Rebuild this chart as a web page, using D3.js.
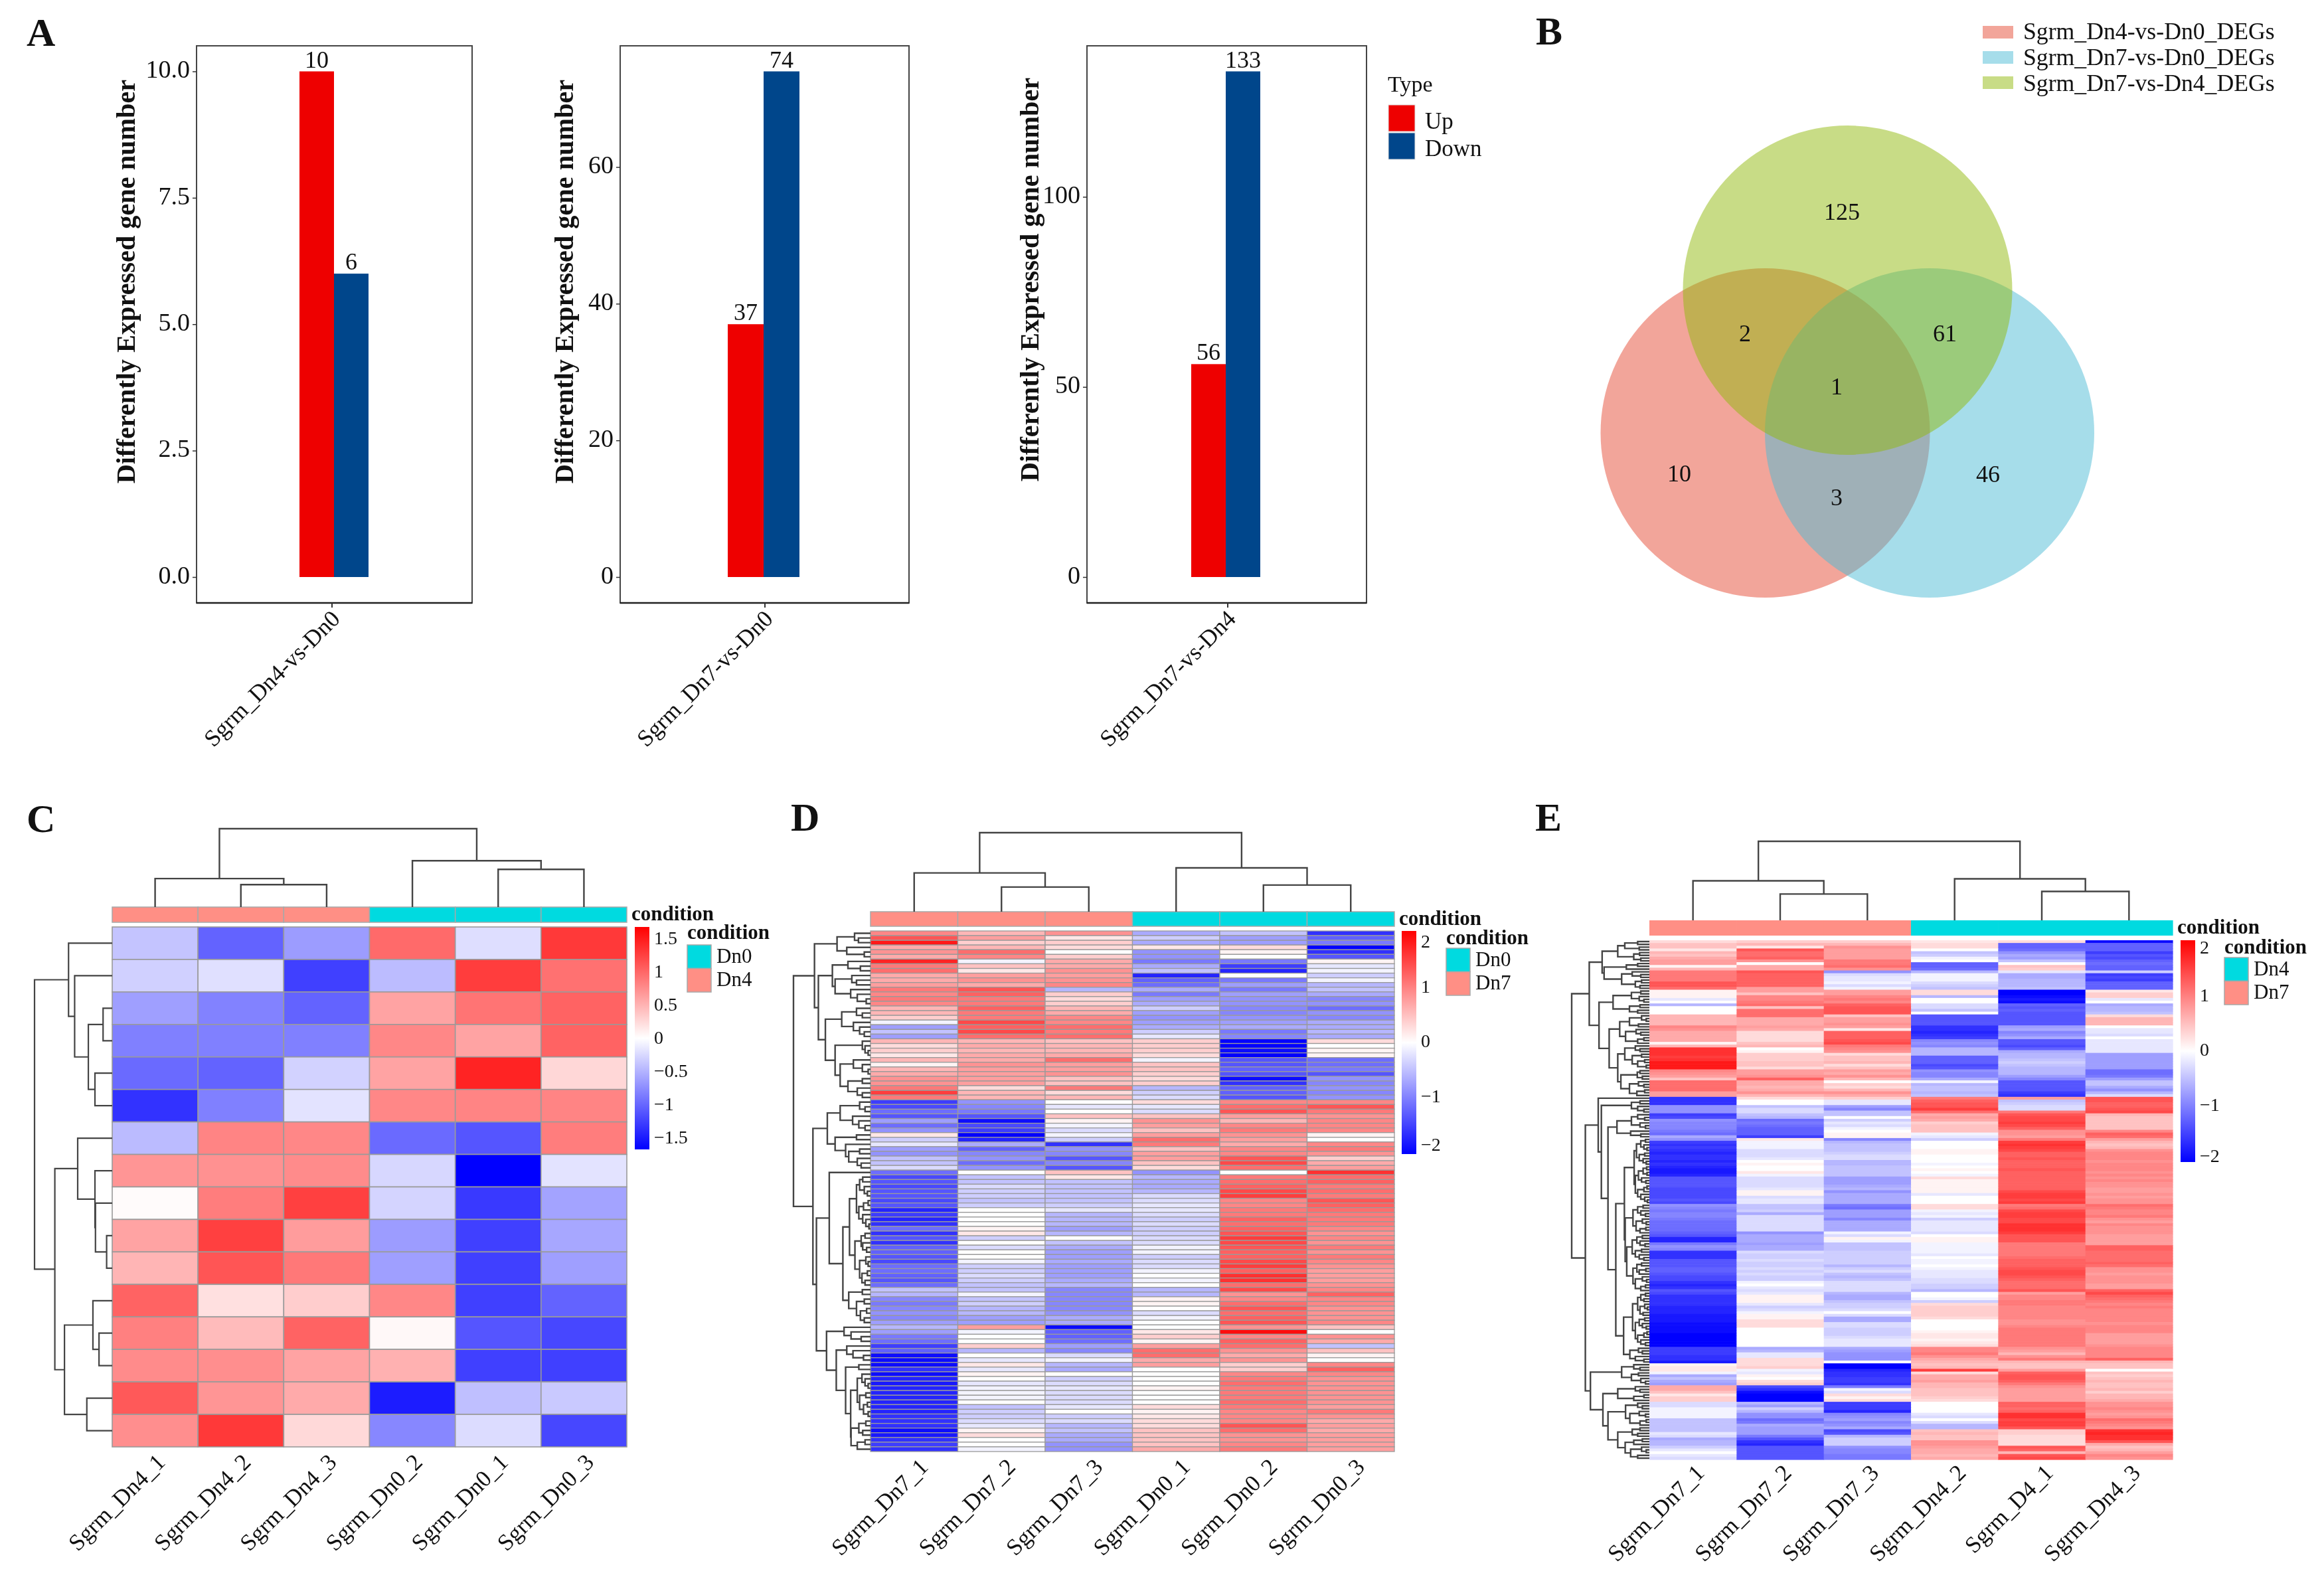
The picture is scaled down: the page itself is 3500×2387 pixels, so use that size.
<!DOCTYPE html>
<html><head><meta charset="utf-8">
<script src="https://cdn.jsdelivr.net/npm/d3@7/dist/d3.min.js"></script>
<style>html,body{margin:0;padding:0;background:#fff}svg{display:block;filter:blur(0.7px)}text{font-family:"Liberation Serif",serif;fill:#111}</style>
</head><body><svg id="c" width="3500" height="2387"></svg>
<script>
// ---------- Panel A ----------
const barGroups=["Sgrm_Dn4-vs-Dn0","Sgrm_Dn7-vs-Dn0","Sgrm_Dn7-vs-Dn4"];
const upCounts=[10,37,56];
const downCounts=[6,74,133];
const barTicks=[[0,2.5,5,7.5,10],[0,20,40,60],[0,50,100]];
const barTickFormats=[".1f","d","d"];
const barTypes=["Up","Down"];
const yTitle="Differently Expressed gene number";
// ---------- Panel B ----------
const vennSets=["Sgrm_Dn4-vs-Dn0_DEGs","Sgrm_Dn7-vs-Dn0_DEGs","Sgrm_Dn7-vs-Dn4_DEGs"];
const vennCounts=[125,2,61,1,10,46,3];
// ---------- Panel C (z-score x 1) ----------
const cCols=["Sgrm_Dn4_1","Sgrm_Dn4_2","Sgrm_Dn4_3","Sgrm_Dn0_2","Sgrm_Dn0_1","Sgrm_Dn0_3"];
const cRows=[
[-.42,-1.1,-.7,1.05,-.23,1.4],[-.33,-.22,-1.35,-.47,1.37,1.0],[-.68,-.88,-1.1,.65,.98,1.1],[-.9,-.9,-.9,.85,.65,1.1],
[-1.05,-1.1,-.32,.65,1.55,.28],[-1.45,-.9,-.2,.85,.87,.87],[-.48,.87,.85,-1.05,-1.2,.92],[.75,.78,.82,-.28,-1.8,-.2],
[.03,.92,1.35,-.3,-1.4,-.65],[.65,1.35,.7,-.7,-1.35,-.62],[.52,1.2,.95,-.68,-1.35,-.68],[1.1,.22,.35,.85,-1.35,-1.1],
[.9,.48,1.1,.05,-1.2,-1.3],[.82,.8,.65,.55,-1.35,-1.35],[1.17,.75,.6,-1.6,-.45,-.38],[.8,1.4,.27,-.85,-.25,-1.3]];
const cColTree=[154,[56,0,[44,0,0]],[91,0,[74,0,0]]];
const cRowTree=[153,[86,0,[74,0,[47,[18,0,0],[34,0,0]]]],[113,[68,0,[34,0,[33,0,[11,0,0]]]],[94,[38,0,[26,0,0]],[50,0,0]]]];
// ---------- Panel D (z-score x 10, one array per sample) ----------
const dCols=["Sgrm_Dn7_1","Sgrm_Dn7_2","Sgrm_Dn7_3","Sgrm_Dn0_1","Sgrm_Dn0_2","Sgrm_Dn0_3"];
const dDn7_1=[10,14,19,7,9,7,18,11,12,7,7,8,11,10,11,10,6,6,4,-1,-8,-5,-8,6,3,4,2,6,1,6,7,9,9,11,16,11,-16,
-15,-12,-14,-8,-12,-9,2,-4,-2,-8,-9,-5,-5,-3,-12,-15,-14,-15,-14,-14,-15,-14,-18,-16,-18,-17,-12,-17,-14,-17,-13,-13,-14,-15,-12,-12,-13,
-14,-12,-5,-6,-10,-11,-10,-9,-10,-8,-6,-8,-11,-12,-16,-13,-20,-20,-20,-17,-20,-18,-19,-18,-18,-18,-18,-18,-18,-17,-17,-17,-20,-19,-17,-16,-17];
const dDn7_2=[6,8,4,6,12,10,-1,5,2,8,9,7,14,13,11,11,13,11,11,15,13,15,12,6,7,6,7,7,9,8,8,8,8,3,6,6,-9,
-10,-11,-14,-20,-15,-16,-21,-18,-7,-13,-10,-9,-12,-9,0,-5,-5,-3,-4,-4,-5,-4,0,0,0,0,1,2,-4,0,-3,0,0,-1,-4,-4,-3,
-4,-5,-5,-1,-5,-4,-6,-6,-8,-8,8,-1,0,0,4,-6,0,-2,2,-2,1,0,-2,-1,-1,-1,0,-5,-4,-4,-3,-2,1,3,0,0,-1];
const dDn7_3=[9,2,4,3,0,4,7,7,9,8,9,10,-6,4,3,4,6,7,10,10,12,11,12,5,6,6,7,12,8,8,9,5,5,11,3,6,0,
-2,0,5,1,-1,-3,-1,-4,-17,-9,-10,-14,-10,-14,5,2,-5,-5,-5,-5,-5,-4,-2,-6,-6,-6,-8,-6,0,-5,-7,-8,-8,-7,-8,-8,-8,
-7,-6,-10,-10,-10,-10,-10,-9,-7,-7,-20,-13,-13,-12,-8,-10,-3,-1,-6,-7,0,-4,-3,-2,-3,-3,-3,-2,0,-4,-3,-6,-5,-7,-7,-9,-9];
const dDn0_1=[-7,-4,-7,2,-9,-9,-11,-7,-5,-18,-13,-12,-7,-11,-8,-7,-4,-8,-9,-8,-7,-4,-2,4,4,4,3,-1,5,5,4,3,4,-6,-4,-3,3,
-2,-3,5,9,8,5,8,12,11,5,8,8,5,3,-9,-6,-7,-7,-6,-3,-3,-2,-2,-3,-4,-3,-4,-4,-3,-3,-1,-1,-4,-3,-3,-1,0,
-1,0,-6,-6,1,1,0,-3,-1,0,0,2,4,1,8,12,12,7,8,0,0,0,0,1,0,0,0,3,1,2,3,3,5,5,5,5,7];
const dDn0_2=[-5,-8,-8,3,1,0,-11,-16,-18,0,-11,-8,-11,-8,-9,-9,-10,-10,-9,-8,-7,-11,-10,-21,-21,-20,-21,-14,-14,-13,-14,-20,-17,-13,-13,-14,10,
12,14,8,6,10,11,9,8,7,10,10,14,15,12,0,11,12,13,15,16,10,10,11,11,13,12,13,14,16,15,14,13,13,15,16,13,17,
17,12,15,9,10,12,14,12,13,14,9,20,10,13,12,9,7,9,4,4,10,11,12,11,11,11,12,11,10,10,10,14,12,9,9,10,11];
const dDn0_3=[-17,-13,-11,-21,-17,-14,1,-2,-1,-4,-1,-6,-5,-7,-10,-9,-12,-9,-10,-7,-7,-6,-7,3,0,1,1,-12,-12,-11,-14,-9,-10,-9,-10,-9,10,
14,11,9,10,10,10,1,0,10,11,9,4,7,8,17,12,13,11,12,11,14,13,12,11,11,11,10,9,10,9,11,9,11,10,9,8,8,
8,9,10,13,10,10,9,9,9,10,5,0,9,7,-5,5,1,0,10,13,10,9,9,9,9,9,9,8,11,9,7,8,7,8,8,8,8];
const dColTree=[157,[77,0,[49,0,0]],[87,0,[53,0,0]]];
const dRowTree=[198,[144,[86,[41,0,[31,0,0]],[61,0,[16,0,0]]],
 [134,[98,[58,0,[26,0,0]],[91,[48,0,[36,0,0]],[51,0,[34,0,[11,0,0]]]]],
  [116,[74,[36,0,[21,0,0]],[44,0,[28,0,[16,0,0]]]],[91,[21,0,[14,0,[6,0,0]]],[78,[44,0,[21,0,[6,0,0]]],[58,[21,0,0],[34,0,[21,0,0]]]]]]]],
 [148,[111,[78,[28,0,[14,0,0]],[46,0,[30,0,[14,0,0]]]],[91,[36,0,0],[64,0,[56,[28,0,0],[34,0,[24,0,0]]]]]],
  [139,[106,0,[71,[54,[36,[28,[20,0,0],[16,0,[8,0,0]]],[30,[18,[6,0,0],0],[20,0,[12,0,[4,0,0]]]]],
     [40,[24,[14,0,0],[20,0,[10,0,0]]],[28,[12,0,[6,0,0]],[22,[8,0,0],[14,0,0]]]]],
     [56,[21,0,0],[36,[16,0,0],[26,[10,0,0],[16,0,0]]]]]],
   [113,[68,0,[50,0,[24,0,0]]],[88,[61,0,[45,0,[18,0,0]]],[64,[30,0,0],[51,[34,[22,0,[14,0,[6,0,0]]],[28,[12,0,0],[18,[8,0,0],[6,0,0]]]],[50,[30,[12,0,0],[20,0,0]],[34,[14,0,0],0]]]]]]]]];
// ---------- Panel E (z-score x 10, one array per sample) ----------
const eCols=["Sgrm_Dn7_1","Sgrm_Dn7_2","Sgrm_Dn7_3","Sgrm_Dn4_2","Sgrm_D4_1","Sgrm_Dn4_3"];
const eDn7_1=[3,5,5,2,6,5,7,8,8,1,6,11,11,11,11,14,14,12,1,1,1,-2,0,-6,0,0,0,6,6,6,6,10,9,7,7,7,7,1,6,17,17,17,16,17,19,19,19,10,9,8,5,12,12,12,12,8,8,-17,-17,-17,-9,-9,-9,
-16,-15,-9,-10,-10,-10,-11,-12,-7,-9,-16,-17,-16,-17,-18,-17,-17,-18,-17,-18,-19,-19,-18,-14,-14,-14,-14,-15,-15,-15,-15,-14,-15,-9,-10,-11,-10,-10,-11,-12,-12,-12,-12,-13,-14,-18,-18,-11,-9,-10,-17,-17,-17,-14,-14,-14,-13,-13,-14,-15,-15,-17,-18,-17,
-14,-15,-17,-17,-17,-17,-18,-18,-18,-19,-19,-19,-20,-20,-20,-20,-21,-21,-21,-21,-21,-16,-16,-16,-17,-17,-19,1,2,2,-1,-7,-5,-7,-8,7,7,5,2,4,4,-3,-3,-1,-1,-1,-1,-5,-5,-5,-5,-5,-2,-3,-7,-6,-6,-4,-2,0,-2,-3];
const eDn7_2=[4,6,2,14,12,12,13,9,0,7,7,14,13,13,13,13,13,8,8,5,10,10,11,12,5,12,12,12,7,7,7,8,7,3,3,3,3,5,6,0,1,4,4,4,5,5,3,8,8,9,13,7,7,6,7,9,6,3,0,0,-5,-3,-3,
-5,-6,-12,-11,-12,-13,-13,-13,-16,2,-1,-1,-1,-3,-3,-3,-2,0,1,0,0,2,-1,-3,-3,-3,-3,-2,1,1,-3,-2,-2,-5,-5,-4,-7,-3,-3,-3,-3,-3,-3,-9,-7,-7,-7,-8,-7,-7,-3,-4,-4,-3,-4,-4,-3,-4,-3,-4,-4,-1,0,-2,
-3,-2,1,1,1,-2,-4,-3,-1,1,1,3,3,3,0,0,0,0,0,0,0,-7,-6,-2,-2,3,3,3,4,-1,-2,1,0,3,4,-15,-17,-20,-21,-21,-21,-6,-8,-4,-6,-9,-9,-12,-11,-7,-8,-8,-8,-11,-14,-17,-18,-14,-14,-14,-14,-14];
const eDn7_3=[4,6,9,8,8,8,8,11,11,12,9,-9,-3,-2,-2,-1,-3,-1,8,8,10,11,10,13,14,14,14,5,8,8,9,8,2,13,13,13,14,15,11,10,9,3,5,5,6,3,5,8,7,9,6,0,4,3,6,9,7,4,-2,-2,-8,-10,-5,
-5,0,-4,-2,-3,-1,0,1,1,-10,-6,-5,-5,-5,-4,-3,-3,-6,-6,-5,-5,-5,-5,-8,-8,-8,-7,-6,-9,-7,-7,-7,-7,-11,-12,-8,-8,-8,-10,-7,-7,-7,-7,-1,-3,1,-1,-5,-5,-5,-4,-4,-4,-4,-4,-6,-4,-3,-5,-6,-5,-3,-3,-3,
-3,-6,-7,-7,-5,-4,-4,-3,0,-3,-7,-7,-3,-3,-4,-4,-4,-3,-2,-2,-2,-7,-8,-9,-9,-9,0,-21,-21,-18,-17,-17,-16,-16,-17,-11,-1,-3,3,1,3,-16,-16,-16,-18,-10,-9,-8,-10,-9,-7,-15,-14,-6,-4,-4,-4,-9,-10,-10,-11,-11];
const eDn4_2=[2,3,3,0,-5,-4,-1,0,-13,-13,-12,-6,-1,-1,-1,-3,-4,-5,3,3,-6,0,0,-3,-3,-5,0,-14,-14,-14,-14,-17,-17,-18,-17,-16,-10,-9,-10,-6,-6,-6,-13,-13,-13,-15,-14,-9,-10,-10,-7,-1,-6,-5,-5,-6,-5,11,13,14,14,16,12,
7,8,7,4,5,5,5,-1,-2,-4,0,0,0,1,1,0,0,0,-1,0,1,0,-1,3,1,1,1,1,1,-2,0,0,0,3,3,-1,-2,-1,-4,-2,-2,-2,-2,-3,0,1,1,-1,-1,-1,-1,-2,0,-1,-1,0,-1,-2,-2,-2,-3,-3,-4,-4,
-6,0,0,-1,-4,3,4,4,4,4,3,0,0,0,0,1,2,2,1,2,3,10,10,11,9,7,6,5,6,16,3,7,7,8,6,6,5,5,5,4,3,0,0,0,0,-2,-3,0,-3,-6,-6,5,6,5,5,9,9,8,7,7,6,7];
const eD4_1=[3,-13,-13,-12,-9,-7,-8,-5,0,5,4,-2,-7,-7,-6,-6,-6,-5,-21,-21,-20,-19,-20,-13,-14,-13,-14,-14,-14,-14,-14,-8,-7,-10,-9,-7,-14,-14,-15,-13,-7,-6,-6,-5,-4,-5,-6,-6,-6,-8,-10,-14,-14,-14,-14,-16,-17,8,-5,-4,-3,-3,11,
14,15,15,16,15,13,9,9,8,11,16,17,16,15,13,13,14,13,13,13,14,13,13,13,13,13,13,13,15,16,16,15,16,11,12,15,16,16,15,15,17,17,17,16,14,14,14,11,11,11,11,11,12,13,13,13,14,15,15,14,13,12,12,12,
14,8,10,10,11,11,10,10,10,10,10,9,9,10,11,11,11,11,11,11,11,9,8,6,9,11,6,5,5,8,13,14,14,13,11,9,8,8,8,8,8,13,13,12,13,17,17,15,16,16,14,4,4,3,3,3,3,14,13,6,14,15];
const eDn4_3=[-20,-13,-13,-13,-16,-14,-15,-13,-12,-13,-13,-4,-16,-15,-16,-13,-13,-13,2,4,4,-2,0,-7,-6,-6,-5,3,6,6,6,0,-2,-2,-3,0,-2,-2,-2,-2,-2,-8,-8,-8,-8,-8,-8,-12,-12,-11,-8,-5,-5,-7,-9,-6,-3,14,14,13,13,14,15,
6,5,5,5,5,5,10,13,12,8,6,5,6,9,10,10,10,9,10,10,10,9,10,9,10,9,9,8,8,9,8,9,9,12,11,10,10,11,9,8,10,9,9,9,8,8,8,8,13,13,12,12,12,12,13,12,9,9,8,9,9,9,8,8,
13,15,13,12,11,10,11,10,10,10,10,10,9,10,10,10,8,8,8,8,9,10,10,10,10,13,6,5,5,0,5,4,5,6,5,5,6,4,6,6,7,9,9,10,9,8,9,12,11,10,9,17,18,17,17,14,7,5,6,8,10,9];
const eColTree=[156,[78,0,[52,0,0]],[82,0,[57,0,0]]];
const eRowTree=[199,[154,[121,[81,[63,[30,0,0],[26,0,0]],[40,[25,0,0],[22,0,0]]],[116,[59,[30,0,0],0],[71,[44,0,[22,0,0]],[36,[20,0,0],[24,0,0]]]]],
 [129,[93,[46,[22,0,0],[26,0,[14,0,0]]],[51,[24,0,0],[30,0,0]]],
  [103,[76,[51,[20,0,[8,0,0]],[28,0,0]],[61,[34,0,[22,0,0]],[30,[14,0,0],0]]],
   [81,[63,[36,0,[24,0,0]],[44,[20,0,0],[30,[12,0,0],[8,0,0]]]],[73,[31,[24,0,0],[18,0,0]],[51,[28,0,[14,0,0]],[32,[12,0,0],0]]]]]]],
 [164,[131,0,[123,[46,[24,0,0],[30,0,[14,0,0]]],[106,[83,[46,[30,0,[12,0,0]],[24,0,[10,0,0]]],[48,0,[22,0,0]]],
   [86,[64,
     [39,[33,[22,[10,0,0],[14,0,[6,0,0]]],[26,[12,0,0],[16,0,[8,0,0]]]],[36,[28,[16,[7,0,0],[6,0,0]],[20,0,[9,0,0]]],[30,[14,[6,0,0],0],[22,0,[12,0,[5,0,0]]]]]],
     [62,[42,[30,[16,0,0],[22,0,[10,0,0]]],[34,[18,0,[8,0,0]],[24,[9,0,0],0]]],
      [58,[44,[32,[18,0,0],[24,0,[11,0,0]]],[36,[20,0,0],[26,0,[14,0,0]]]],[42,[32,[20,0,0],[26,[9,0,0],0]],[36,[18,0,[7,0,0]],[22,[10,0,0],0]]]]]],
    [66,[43,[30,[22,[10,0,0],[14,0,0]],[24,[12,0,[5,0,0]],[16,0,0]]],[36,[26,[12,0,0],[18,0,[8,0,0]]],[30,[14,[6,0,0],0],[22,0,[10,0,0]]]]],[50,[28,0,[18,0,0]],[36,0,[14,0,0]]]]]]]],
  [151,[71,[40,0,[24,0,0]],[46,[28,0,0],[22,0,[10,0,0]]]],
   [119,[81,[36,0,[24,0,0]],[40,[14,0,0],0]],
    [106,[61,[30,0,[18,0,0]],[50,[26,0,[10,0,0]],[24,[8,0,0],0]]],[81,[44,[24,0,0],[30,0,0]],[62,[40,[18,0,0],0],[48,[20,0,[8,0,0]],[30,0,0]]]]]]]]];

const svg=d3.select("#c");
const SERIF='"Liberation Serif",serif';
const RED="#EE0000",NAVY="#00468B",CYAN="#00DAE0",PINK="#FF8F85";
function label(g,x,y,s,o={}){
  const t=g.append("text").attr("x",x).attr("y",y).text(s)
    .attr("font-size",o.size||34).attr("font-weight",o.bold?"bold":null)
    .attr("text-anchor",o.anchor||"start");
  if(o.mid!==false) t.attr("dominant-baseline",o.base||"central");
  if(o.rot!=null) t.attr("transform",`rotate(${o.rot} ${x} ${y})`);
  return t;
}
// panel letters
[["A",40,69],["B",2313,67],["C",40,1253],["D",1191,1251],["E",2312,1251]].forEach(d=>label(svg,d[1],d[2],d[0],{size:60,bold:true,base:"auto"}));

// ---- bars
const barLayouts=[{l:296,r:711,c:500,red:[451,503],lab:189},{l:934,r:1369,c:1152,red:[1096,1150],lab:849},{l:1637,r:2058,c:1849,red:[1794,1846],lab:1550}];
barGroups.forEach((name,i)=>{
  const L=barLayouts[i],g=svg.append("g"),T=69,B=908;
  const maxV=Math.max(upCounts[i],downCounts[i]);
  const y=d3.scaleLinear().domain([0,maxV]).range([869,107.5]);
  const w=L.red[1]-L.red[0];
  const x=d3.scaleBand().domain(barTypes).range([L.red[0],L.red[0]+2*w]);
  g.append("rect").attr("x",L.l).attr("y",T).attr("width",L.r-L.l).attr("height",B-T).attr("fill","none").attr("stroke","#444").attr("stroke-width",2);
  g.append("line").attr("x1",L.l).attr("x2",L.r).attr("y1",B).attr("y2",B).attr("stroke","#222").attr("stroke-width",2.6);
  [[barTypes[0],upCounts[i],RED],[barTypes[1],downCounts[i],NAVY]].forEach(([k,v,c])=>{
    g.append("rect").attr("x",x(k)).attr("y",y(v)).attr("width",x.bandwidth()).attr("height",y(0)-y(v)).attr("fill",c);
    label(g,x(k)+x.bandwidth()/2,y(v)-6,String(v),{size:36,anchor:"middle",base:"auto"});
  });
  const ax=d3.axisLeft(y).tickValues(barTicks[i]).tickFormat(d3.format(barTickFormats[i])).tickSize(6).tickPadding(4);
  const ag=g.append("g").attr("transform",`translate(${L.l},0)`).call(ax);
  ag.select(".domain").remove();
  ag.selectAll("line").attr("stroke","#333").attr("stroke-width",1.5);
  ag.selectAll("text").attr("font-size",38).attr("font-family",SERIF).attr("fill","#111").attr("transform","translate(0,-3)");
  g.append("line").attr("x1",L.c).attr("x2",L.c).attr("y1",B).attr("y2",B+7).attr("stroke","#333").attr("stroke-width",2);
  label(g,L.c+14,934,name,{size:35.5,anchor:"end",rot:-45,base:"auto"});
  label(g,L.lab,i===2?421:424,yTitle,{size:40.3,bold:true,anchor:"middle",rot:-90});
});
// legend type
label(svg,2090,126,"Type",{size:34});
barTypes.forEach((k,i)=>{
  svg.append("rect").attr("x",2091).attr("y",158+i*42).attr("width",40).attr("height",40).attr("fill",i?NAVY:RED).attr("stroke","#ddd").attr("stroke-width",1);
  label(svg,2146,182+i*41,k,{size:35});
});
// ---- venn
const vennFill=["#E64B35","#4DBBD5","#91B90D"];
const vennGeom=[[2658.5,652],[2906,652],[2782.5,437]];
const vennR=248;
vennSets.forEach((s,i)=>{
  svg.append("circle").attr("cx",vennGeom[i][0]).attr("cy",vennGeom[i][1]).attr("r",vennR).attr("fill",vennFill[i]).attr("fill-opacity",.5);
  svg.append("rect").attr("x",2986).attr("y",39+i*38).attr("width",46).attr("height",19).attr("fill",vennFill[i]).attr("fill-opacity",.5);
  label(svg,3047,47+i*39,s,{size:35.7});
});
const vennPos=[[2774,319],[2628,502],[2929,502],[2766,582],[2529,713],[2994,714],[2766,749]];
vennCounts.forEach((v,i)=>label(svg,vennPos[i][0],vennPos[i][1],String(v),{size:36,anchor:"middle"}));

// ---- heatmaps
function drawTreeRows(g,tree,yc,xScale,sw,col){
  let leaf=0;
  (function walk(n){
    if(n===0){const p={y:yc(leaf),h:0};leaf++;return p;}
    const a=walk(n[1]),b=walk(n[2]),X=xScale(n[0]);
    const d=`M${xScale(a.h)},${a.y}H${X}V${b.y}H${xScale(b.h)}`;
    g.append("path").attr("d",d).attr("fill","none").attr("stroke",col).attr("stroke-width",sw);
    return {y:(a.y+b.y)/2,h:n[0]};
  })(tree);
  return leaf;
}
function drawTreeCols(g,tree,xc,yScale,sw,col){
  let leaf=0;
  (function walk(n){
    if(n===0){const p={x:xc(leaf),h:0};leaf++;return p;}
    const a=walk(n[1]),b=walk(n[2]),Y=yScale(n[0]);
    g.append("path").attr("d",`M${a.x},${yScale(a.h)}V${Y}H${b.x}V${yScale(b.h)}`).attr("fill","none").attr("stroke",col).attr("stroke-width",sw);
    return {x:(a.x+b.x)/2,h:n[0]};
  })(tree);
}
function heat(o){
  const g=svg.append("g");
  const n=o.rows.length;
  const x=d3.scaleBand().domain(d3.range(6)).range([o.L,o.R]);
  const y=d3.scaleBand().domain(d3.range(n)).range([o.T,o.B]);
  const color=d3.scaleLinear().domain([-o.cmax,0,o.cmax]).range(["#0000FF","#FFFFFF","#FF0000"]).clamp(true);
  o.rows.forEach((r,i)=>r.forEach((v,j)=>{
    g.append("rect").attr("x",x(j)).attr("y",y(i)).attr("width",x.bandwidth()+(o.border?0:.6)).attr("height",y.bandwidth()+(o.border?0:.6))
      .attr("fill",color(v)).attr("stroke",o.border?"#9a9a9a":"none").attr("stroke-width",o.border||0);
  }));
  // annotation
  o.cols.forEach((c,j)=>{
    g.append("rect").attr("x",x(j)).attr("y",o.aT).attr("width",x.bandwidth()+(o.annBorder?0:.6)).attr("height",o.aB-o.aT)
      .attr("fill",j<3?PINK:CYAN).attr("stroke",o.annBorder?"#a8a8a8":"none").attr("stroke-width",1.5);
    label(g,x(j)+x.bandwidth()/2+o.lx,o.ly,c,{size:35,anchor:"end",rot:-45,base:"auto"});
  });
  label(g,o.condX,(o.aT+o.aB)/2-2,"condition",{size:31,bold:true});
  // dendrograms
  const rx=d3.scaleLinear().domain([0,o.rowTree[0]]).range([o.L,o.rootX]);
  const leaves=drawTreeRows(g,o.rowTree,i=>y(i)+y.bandwidth()/2,rx,o.sw||2.4,"#444");
  if(leaves!==n) throw new Error("leaf mismatch "+leaves+" vs "+n);
  const cy=d3.scaleLinear().domain([0,o.colTree[0]]).range([o.aT,o.rootY]);
  drawTreeCols(g,o.colTree,j=>x(j)+x.bandwidth()/2,cy,2.4,"#444");
  // colour bar
  const cb=d3.scaleLinear().domain(o.cbDomain).range([o.B0cb,o.T]);
  const gid="grad"+o.id;
  const grad=svg.append("defs").append("linearGradient").attr("id",gid).attr("x1",0).attr("x2",0).attr("y1",1).attr("y2",0);
  [[0,"#0000FF"],[.5,"#FFFFFF"],[1,"#FF0000"]].forEach(s=>grad.append("stop").attr("offset",s[0]).attr("stop-color",s[1]));
  g.append("rect").attr("x",o.cbX).attr("y",o.T).attr("width",o.cbW).attr("height",o.B0cb-o.T).attr("fill",`url(#${gid})`);
  o.cbTicks.forEach(t=>{
    const py=Math.min(o.B0cb-o.cbInset,Math.max(o.T+o.cbInset,cb(t)));
    label(g,o.cbX+o.cbW+7,py,(t<0?"\u2212":"")+Math.abs(t),{size:28});
  });
  // legend
  label(g,o.legX,o.legY+(o.titleDy||0),"condition",{size:31,bold:true});
  o.legend.forEach((s,i)=>{
    g.append("rect").attr("x",o.legX).attr("y",o.legY+20+i*35.5).attr("width",36).attr("height",35.5).attr("fill",i?PINK:CYAN).attr("stroke","#a8a8a8").attr("stroke-width",1.5);
    label(g,o.legX+44,o.legY+36+i*35.5,s,{size:31});
  });
}
const rowsFrom=(cols)=>d3.range(cols[0].length).map(i=>cols.map(c=>{if(c.length!==cols[0].length)throw new Error("len "+c.length);return c[i]/10;}));
heat({id:"C",rows:cRows,cols:cCols,L:169,R:944,T:1396,B:2179,aT:1366,aB:1389,border:1.6,annBorder:true,cmax:1.8,rowTree:cRowTree,colTree:cColTree,rootX:52,rootY:1248,lx:17,ly:2204,condX:951,cbX:956,cbW:22,B0cb:1731,cbDomain:[-1.69,1.66],cbTicks:[-1.5,-1,-.5,0,.5,1,1.5],cbInset:0,legX:1035,legY:1403,legend:["Dn0","Dn4"],sw:2.2});
heat({id:"D",rows:rowsFrom([dDn7_1,dDn7_2,dDn7_3,dDn0_1,dDn0_2,dDn0_3]),cols:dCols,L:1311,R:2100,T:1402,B:2186,aT:1373,aB:1395,border:1.3,annBorder:true,cmax:2.1,rowTree:dRowTree,colTree:dColTree,rootX:1195,rootY:1254,lx:23,ly:2211,condX:2107,cbX:2111,cbW:22,B0cb:1738,cbDomain:[-2.07,2.02],cbTicks:[-2,-1,0,1,2],cbInset:15,legX:2178,legY:1408,titleDy:3,legend:["Dn0","Dn7"]});
heat({id:"E",rows:rowsFrom([eDn7_1,eDn7_2,eDn7_3,eDn4_2,eD4_1,eDn4_3]),cols:eCols,L:2484,R:3272,T:1416,B:2198,aT:1386,aB:1409,border:0,annBorder:false,cmax:2.1,rowTree:eRowTree,colTree:eColTree,rootX:2367,rootY:1267,lx:19,ly:2220,condX:3279,cbX:3284,cbW:22,B0cb:1750,cbDomain:[-2.06,2.01],cbTicks:[-2,-1,0,1,2],cbInset:10,legX:3350,legY:1422,titleDy:3,legend:["Dn4","Dn7"]});
</script></body></html>
